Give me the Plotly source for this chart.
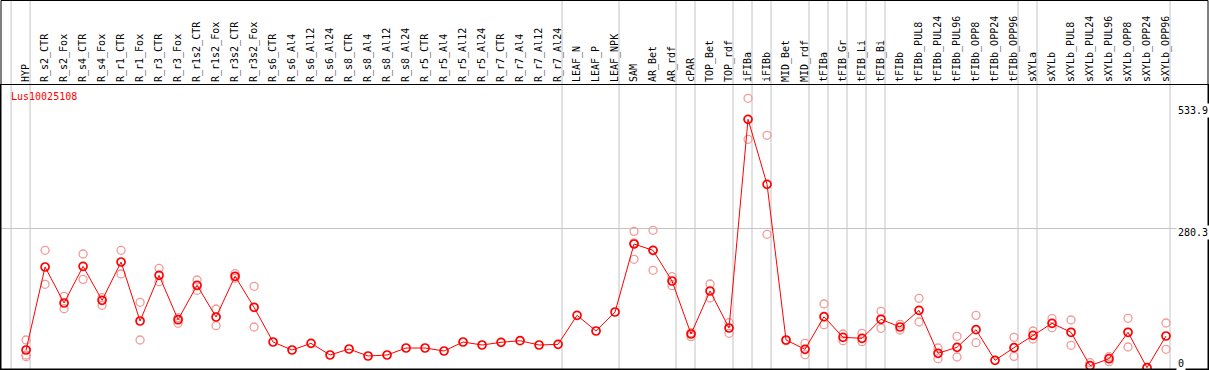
import plotly.graph_objects as go

categories = [
    "HYP", "R_s2_CTR", "R_s2_Fox", "R_s4_CTR", "R_s4_Fox", "R_r1_CTR", "R_r1_Fox",
    "R_r3_CTR", "R_r3_Fox", "R_r1s2_CTR", "R_r1s2_Fox", "R_r3s2_CTR", "R_r3s2_Fox",
    "R_s6_CTR", "R_s6_Al4", "R_s6_Al12", "R_s6_Al24", "R_s8_CTR", "R_s8_Al4",
    "R_s8_Al12", "R_s8_Al24", "R_r5_CTR", "R_r5_Al4", "R_r5_Al12", "R_r5_Al24",
    "R_r7_CTR", "R_r7_Al4", "R_r7_Al12", "R_r7_Al24", "LEAF_N", "LEAF_P", "LEAF_NPK",
    "SAM", "AR_Bet", "AR_rdf", "cPAR", "TOP_Bet", "TOP_rdf", "iFIBa", "iFIBb",
    "MID_Bet", "MID_rdf", "tFIBa", "tFIB_Gr", "tFIB_Li", "tFIB_Bi", "tFIBb",
    "tFIBb_PUL8", "tFIBb_PUL24", "tFIBb_PUL96", "tFIBb_OPP8", "tFIBb_OPP24",
    "tFIBb_OPP96", "sXYLa", "sXYLb", "sXYLb_PUL8", "sXYLb_PUL24", "sXYLb_PUL96",
    "sXYLb_OPP8", "sXYLb_OPP24", "sXYLb_OPP96",
]

means = [
    37.8, 203.2, 131.5, 204.5, 136.8, 213.1, 95.6, 186.6, 98.2, 166.7, 103.6, 184.7, 122.9,
    53.8, 37.8, 51.1, 27.9, 39.8, 25.9, 27.9, 41.8, 41.8, 35.9, 53.8, 47.8,
    53.1, 56.4, 47.8, 49.1, 106.9, 75.7, 113.5,
    249.0, 236.4, 175.3, 69.7, 155.4, 81.7, 497.4, 367.9,
    57.8, 39.2, 104.2, 63.1, 61.1, 99.0, 83.7,
    116.9, 31.3, 43.2, 78.3, 17.3, 42.5,
    67.1, 91.0, 73.1, 6.6, 20.5, 73.1, 2.6, 65.7,
]

rep1 = [
    57.8, 236.4, 144.8, 229.1, 142.1, 236.4, 132.8, 200.5, 102.2, 177.3, 119.5, 189.9, 164.7,
    None, None, None, None, None, None, None, None, None, None, None, None,
    None, None, None, None, None, None, None,
    274.2, 276.3, 183.9, 72.3, 169.3, 92.2, 539.2, 465.5,
    56.4, 51.2, 129.5, 69.7, 71.1, 114.9, 77.7,
    140.8, 41.8, 65.1, 106.9, None, 63.1,
    75.7, 100.3, 97.6, 12.6, 24.5, 101.0, None, 91.6,
]

rep2 = [
    27.9, 168.7, 120.1, 178.6, 126.9, 189.2, 57.8, 174.0, 91.0, 156.8, 86.3, 180.7, 83.7,
    None, None, None, None, None, None, None, None, None, None, None, None,
    None, None, None, None, None, None, None,
    218.5, 196.6, 166.0, 64.3, 141.4, 71.1, 457.6, 268.3,
    None, 28.5, 88.2, 56.4, 54.4, 81.1, 89.0,
    93.6, 20.5, 23.9, 52.4, None, 25.2,
    59.8, 82.3, 47.2, None, 14.5, 43.8, None, 39.2,
]

rep3 = [
    24.5, None, None, None, None, None, None, None, None, None, None, None, None,
    None, None, None, None, None, None, None, None, None, None, None, None,
    None, None, None, None, None, None, None,
    251.4, 236.4, None, None, None, None, None, None,
    None, None, None, None, None, None, None,
    None, None, None, None, None, None,
    None, None, None, None, None, None, None, None,
]

group_ends = [-1, 0, 28, 31, 34, 35, 37, 38, 39, 41, 42, 43, 44, 45, 52, 53, 60]
y_labels = [0, 280.3, 533.9]
gene = "Lus10025108"

FONT = "DejaVu Sans Mono"
idx = list(range(len(categories)))

rx, ry = [], []
for reps in (rep1, rep2, rep3):
    for i, v in zip(idx, reps):
        if v is not None:
            rx.append(i)
            ry.append(v)

fig = go.Figure()
fig.add_trace(go.Scatter(
    x=rx, y=ry, mode="markers",
    marker=dict(symbol="circle-open", size=8, color="#f29a9a", line=dict(width=1.3, color="#f29a9a")),
    hoverinfo="skip", showlegend=False,
))
fig.add_trace(go.Scatter(
    x=idx, y=means, mode="lines+markers",
    line=dict(color="#ff0000", width=1),
    marker=dict(symbol="circle-open", size=8, color="#ff0000", line=dict(width=1.7, color="#ff0000")),
    showlegend=False,
))

shapes = []
for g in group_ends:
    shapes.append(dict(type="line", xref="x", yref="paper", x0=g + 0.21, x1=g + 0.21,
                       y0=0, y1=1.31, line=dict(color="#c4c4c4", width=1), layer="below"))
shapes.append(dict(type="rect", xref="paper", yref="paper", x0=0, x1=1, y0=0, y1=1.2975,
                   line=dict(color="black", width=1)))

ann = []
shifts = {0: -2, 280.3: 3, 533.9: -2.5}
for v in y_labels:
    ann.append(dict(xref="paper", yref="y", x=0.9735, y=v, xanchor="left",
                    yanchor="bottom" if v == 0 else "top", yshift=shifts[v],
                    text=f"{v:g}", showarrow=False, bgcolor="white", borderpad=1,
                    font=dict(family=FONT, size=10, color="black")))
ann.append(dict(xref="paper", yref="paper", x=0.0066, y=1, xanchor="left", yanchor="top",
                yshift=-4, text=gene, showarrow=False,
                font=dict(family=FONT, size=10, color="#ff0000")))

fig.update_layout(
    template="none",
    width=1209, height=370, autosize=False,
    margin=dict(l=1, r=1, t=85, b=1, pad=0),
    paper_bgcolor="white", plot_bgcolor="white",
    shapes=shapes,
    annotations=ann,
    xaxis=dict(range=[-1.32, 62.21], tickvals=idx, ticktext=categories, side="top",
               tickangle=-90, ticks="", showgrid=False, zeroline=False, automargin=False,
               showline=True, mirror=True, linecolor="black", linewidth=1,
               tickfont=dict(family=FONT, size=10, color="black")),
    yaxis=dict(range=[0, 565.74], tickvals=[280.3], showticklabels=False, ticks="",
               showgrid=True, gridcolor="#c4c4c4", gridwidth=1, zeroline=False, automargin=False,
               showline=True, mirror=True, linecolor="black", linewidth=1),
)

fig.write_html("out.html", config={"displayModeBar": False},
               post_script="document.body.style.margin='0';document.body.style.overflow='hidden';")
